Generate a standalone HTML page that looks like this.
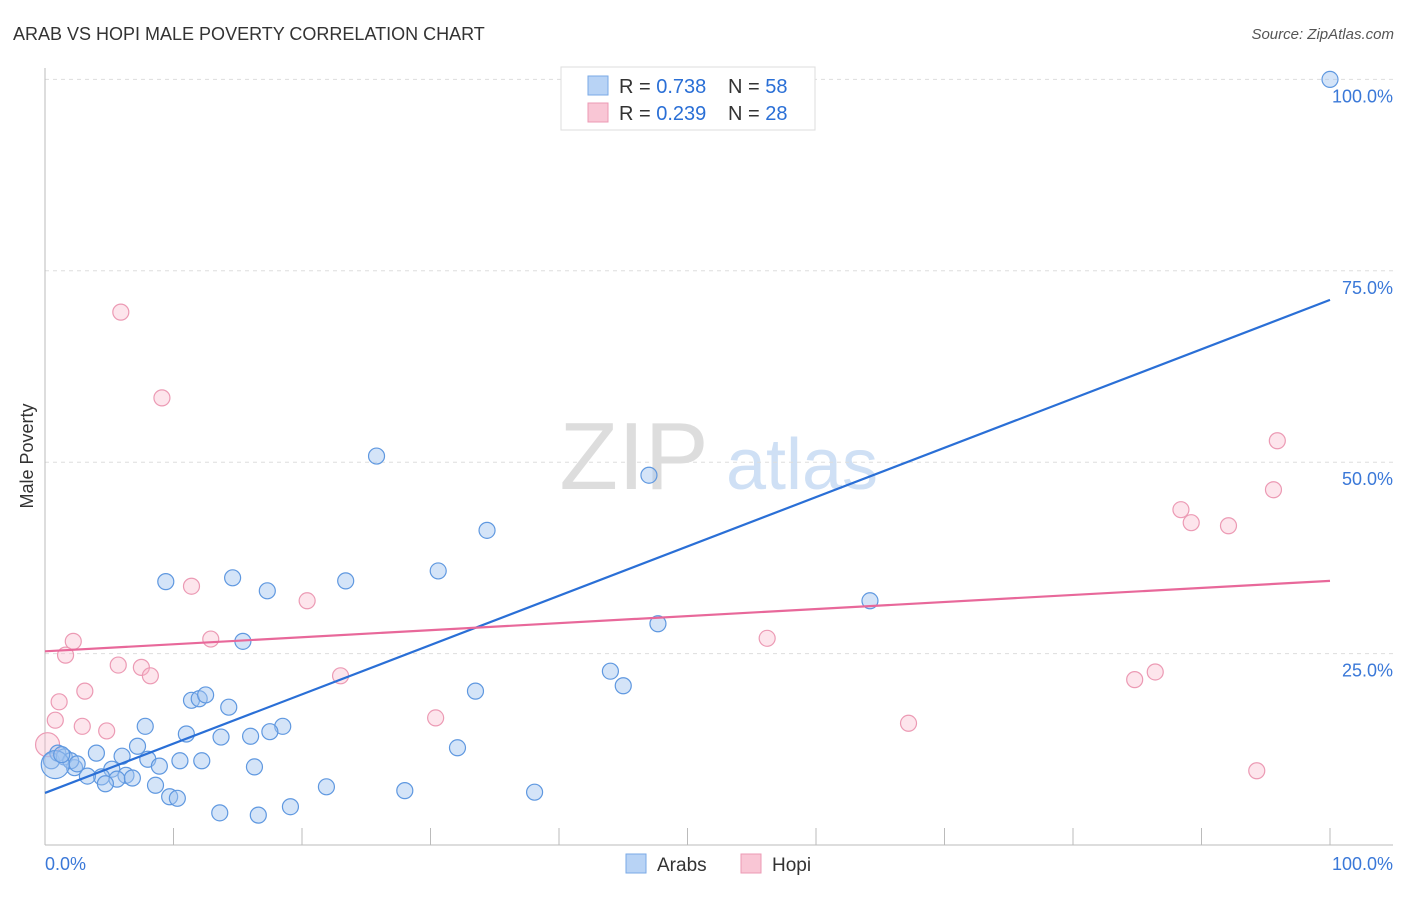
<!DOCTYPE html>
<html><head><meta charset="utf-8"><style>
body{margin:0;background:#fff;font-family:"Liberation Sans",sans-serif;}
svg text{font-family:"Liberation Sans",sans-serif;}
</style></head><body>
<svg id="chart" width="1406" height="892" viewBox="0 0 1406 892" xmlns="http://www.w3.org/2000/svg">
<text x="13" y="40" font-size="18" fill="#333">ARAB VS HOPI MALE POVERTY CORRELATION CHART</text>
<text x="1394" y="39" font-size="15" fill="#555" text-anchor="end" font-style="italic">Source: ZipAtlas.com</text>
<text transform="translate(33,456) rotate(-90)" font-size="18" fill="#333" text-anchor="middle">Male Poverty</text>
<g>
<text x="634" y="489" font-size="96" fill="#ddd" font-family="Liberation Serif,serif" text-anchor="middle">ZIP</text>
<text x="802" y="489" font-size="72" fill="#cfe0f5" text-anchor="middle">atlas</text>
</g>
<g id="grid"></g>
<g id="axes"></g>
<g id="marks"></g>
<g>
<rect x="561" y="67" width="254" height="63" fill="#fff" stroke="#ddd"/>
<rect x="588" y="76" width="20" height="19" fill="#b8d3f5" stroke="#7aaae6"/>
<rect x="588" y="103" width="20" height="19" fill="#f9c6d5" stroke="#ec9ab4"/>
<text x="619" y="93" font-size="20" fill="#333">R = <tspan fill="#2a6fd6">0.738</tspan><tspan x="728">N = </tspan><tspan fill="#2a6fd6">58</tspan></text>
<text x="619" y="120" font-size="20" fill="#333">R = <tspan fill="#2a6fd6">0.239</tspan><tspan x="728">N = </tspan><tspan fill="#2a6fd6">28</tspan></text>
</g>
<g>
<rect x="626" y="854" width="20" height="19" fill="#b8d3f5" stroke="#7aaae6"/>
<text x="657" y="871" font-size="19" fill="#333">Arabs</text>
<rect x="741" y="854" width="20" height="19" fill="#f9c6d5" stroke="#ec9ab4"/>
<text x="772" y="871" font-size="19" fill="#333">Hopi</text>
</g>
</svg>
<script>
const yTicks=[25,50,75,100];
const yTickLabels=["25.0%","50.0%","75.0%","100.0%"];
const xTicks=[10,20,30,40,50,60,70,80,90,100];
const arabX=[100,25.8,47.0,34.4,30.6,23.4,9.4,14.6,17.3,64.2,47.7,15.4,44.0,45.0,33.5,11.4,12.0,12.5,14.3,7.8,18.5,17.5,11.0,13.7,16.0,7.2,32.1,4.0,6.0,8.0,10.5,12.2,8.9,16.3,5.2,2.3,6.3,4.4,3.3,5.6,6.8,4.7,8.6,21.9,28.0,38.1,9.7,10.3,19.1,13.6,16.6,0.5,1.0,1.5,2.0,0.8,1.3,2.5];
const arabY=[100,50.8,48.3,41.1,35.8,34.5,34.4,34.9,33.2,31.9,28.9,26.6,22.7,20.8,20.1,18.9,19.1,19.6,18.0,15.5,15.5,14.8,14.5,14.1,14.2,12.9,12.7,12.0,11.6,11.2,11.0,11.0,10.3,10.2,9.9,10.1,9.1,8.9,9.0,8.6,8.75,8.0,7.8,7.6,7.1,6.9,6.3,6.1,5.0,4.2,3.9,11.0,12.0,11.5,11.0,10.5,11.8,10.6];
const hopiX=[5.9,9.1,95.9,95.6,88.4,89.2,92.1,11.4,20.4,56.2,12.9,2.2,1.6,5.7,7.5,8.2,23.0,86.4,84.8,3.1,1.1,30.4,0.8,67.2,2.9,4.8,94.3,0.2];
const hopiY=[69.6,58.4,52.8,46.4,43.8,42.1,41.7,33.8,31.9,27.0,26.9,26.6,24.8,23.5,23.2,22.1,22.1,22.6,21.6,20.1,18.7,16.6,16.3,15.9,15.5,14.9,9.7,13.1];
const arabTrend=[6.8,71.2];
const hopiTrend=[25.3,34.5];
const NS="http://www.w3.org/2000/svg";
const X=v=>45+v*12.85, Y=v=>845-v*7.656;
function mk(t,a,p){const e=document.createElementNS(NS,t);for(const k in a)e.setAttribute(k,a[k]);p.appendChild(e);return e;}
const grid=document.getElementById('grid'),axes=document.getElementById('axes'),marks=document.getElementById('marks');
yTicks.forEach((t,i)=>{
 const l=mk('line',{x1:45,x2:1393,y1:Y(t),y2:Y(t),stroke:'#ddd','stroke-dasharray':'4,4'},grid);
 
 
 const tx=mk('text',{x:1393,y:Y(t)+23,'font-size':18,fill:'#3a78d8','text-anchor':'end'},axes);
 tx.textContent=yTickLabels[i];
 
 
});
const ya=mk('line',{x1:45,x2:45,y1:68,y2:845,stroke:'#bbb'},axes);


const xa=mk('line',{x1:45,x2:1393,y1:845,y2:845,stroke:'#bbb'},axes);


xTicks.forEach(t=>{
 const l=mk('line',{x1:X(t),x2:X(t),y1:828,y2:845,stroke:'#bbb'},axes);
 
 
});
const x0=mk('text',{x:45,y:870,'font-size':18,fill:'#3a78d8'},axes);x0.textContent='0.0%';


const x1=mk('text',{x:1393,y:870,'font-size':18,fill:'#3a78d8','text-anchor':'end'},axes);x1.textContent='100.0%';


hopiX.forEach((v,i)=>{
 const c=mk('circle',{cx:X(v),cy:Y(hopiY[i]),r:i==hopiX.length-1?12:8,fill:'rgba(248,180,200,0.35)',stroke:'#ec9ab4','stroke-width':1.2},marks);
 
 
});
arabX.forEach((v,i)=>{
 const c=mk('circle',{cx:X(v),cy:Y(arabY[i]),r:i==55?14:8,fill:'rgba(160,196,240,0.45)',stroke:'#5f98e0','stroke-width':1.2},marks);
 
 
});
const tb=mk('line',{x1:X(0),y1:Y(arabTrend[0]),x2:X(100),y2:Y(arabTrend[1]),stroke:'#2a6fd6','stroke-width':2.2},marks);


const tp=mk('line',{x1:X(0),y1:Y(hopiTrend[0]),x2:X(100),y2:Y(hopiTrend[1]),stroke:'#e8689a','stroke-width':2.2},marks);


</script>
</body></html>
